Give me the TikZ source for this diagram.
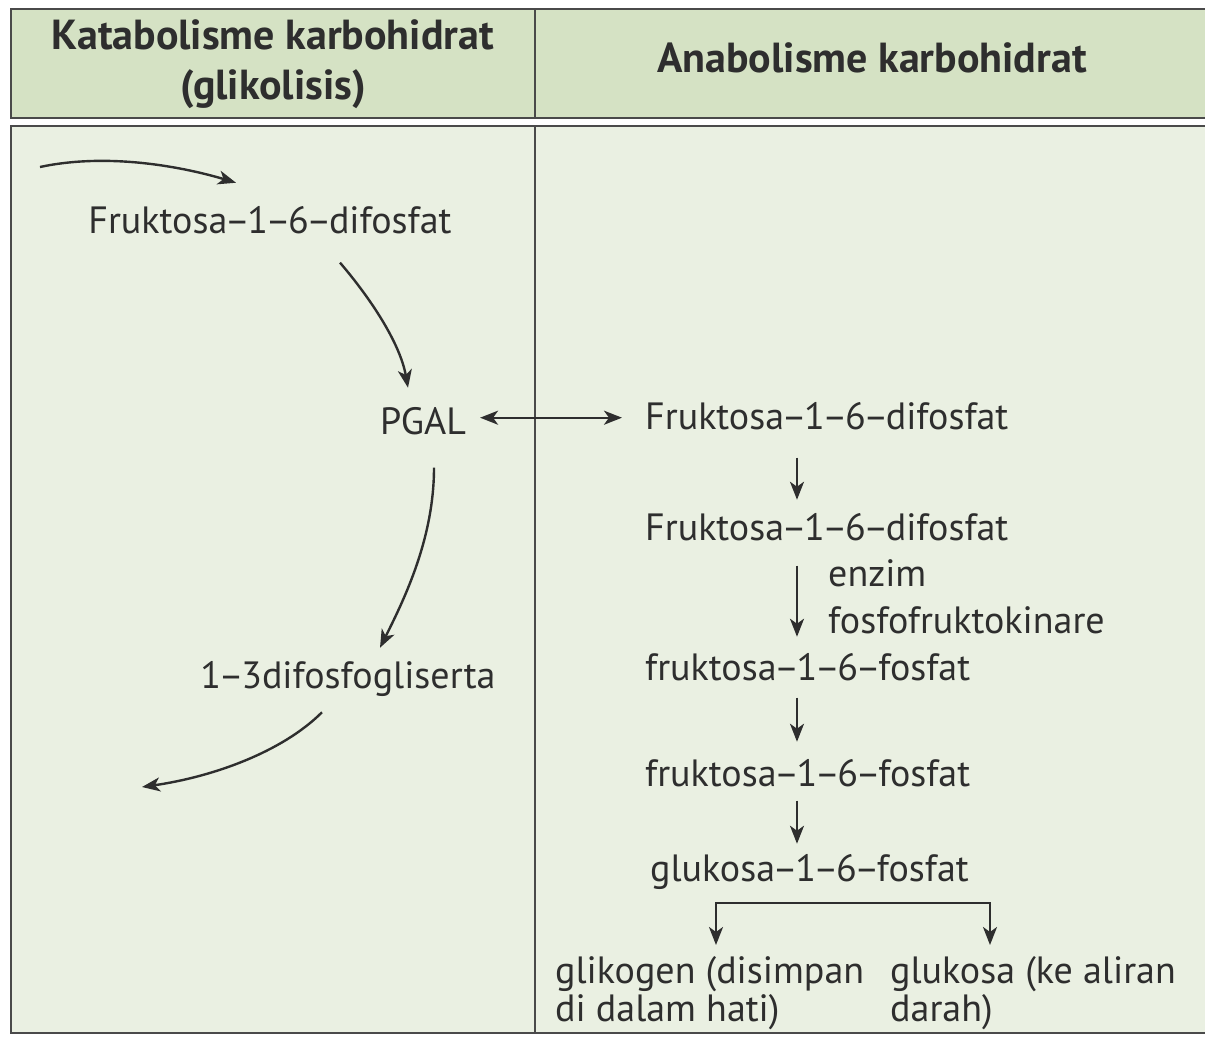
\documentclass[tikz,border=0pt]{standalone}
\usepackage{fontspec}
\setmainfont{PT Sans}
\newfontfamily\headfont{PT Sans}
\usetikzlibrary{arrows.meta,positioning,calc}
\definecolor{hgreen}{HTML}{D5E2C4}
\definecolor{bgreen}{HTML}{EAF0E2}
\definecolor{vgray}{HTML}{2E2E2E}
\definecolor{vline}{HTML}{4A4A4A}
\newcommand\dsh{\kern-2.5pt–\kern-2.5pt}
\tikzset{
  frame/.style={draw=vline,line width=2.2pt},
  head/.style={font=\headfont\bfseries\fontsize{42}{50}\selectfont,text=vgray,align=center,inner sep=0pt},
  txt/.style={font=\fontsize{38}{38}\selectfont,text=vgray,inner sep=0pt},
  arr/.style={-{Stealth[length=18pt,width=14pt,inset=5pt]},line width=2.4pt,draw=vgray},
  darr/.style={{Stealth[length=18pt,width=14pt,inset=5pt]}-{Stealth[length=18pt,width=14pt,inset=5pt]},line width=2.4pt,draw=vgray},
}
\begin{document}
\begin{tikzpicture}[x=1pt,y=-1pt]
  \useasboundingbox (0,0) rectangle (1205,1039);
  \fill[white] (0,0) rectangle (1205,1039);
  % header and body panels
  \filldraw[frame,fill=hgreen] (11,9) rectangle (1230,118);
  \draw[frame] (535,9) -- (535,118);
  \filldraw[frame,fill=bgreen] (11,126) rectangle (1230,1033);
  \draw[frame] (535,126) -- (535,1033);
  \node[head] (hkat) at (273,64) {Katabolisme karbohidrat\\(glikolisis)};
  \node[head] (hana) at (872,58) {Anabolisme karbohidrat};
  % glikolisis
  \coordinate (in0) at (40,167);
  \coordinate (out0) at (142,787);
  \node[txt,anchor=base] (fru0) at (270,233) {Fruktosa\dsh1\dsh6\dsh difosfat};
  \node[txt,anchor=base] (pgal) at (423,434) {PGAL};
  \node[txt,anchor=base] (dfg) at (348,688) {1\dsh3difosfogliserta};
  \draw[arr] (in0) .. controls +(70,-15) and +(-50,-15) .. ($(fru0.north)+(-34,-23)$);
  \draw[arr] ($(fru0.south)+(70,29)$) .. controls +(30,35) and +(-8,-45) .. ($(pgal.north)+(-15,-19)$);
  \draw[arr] ($(pgal.south)+(11,33)$) .. controls +(0,70) and +(25,-50) .. ($(dfg.north)+(32,-13)$);
  \draw[arr] ($(dfg.south)+(-26,16)$) .. controls +(-40,40) and +(70,-10) .. (out0);
  % anabolisme
  \coordinate (col) at (797,0);
  \node[txt,anchor=base west] (fru1) at (645,429) {Fruktosa\dsh1\dsh6\dsh difosfat};
  \node[txt,anchor=base west] (fru2) at (645,540) {Fruktosa\dsh1\dsh6\dsh difosfat};
  \node[txt,anchor=base west] (enz) at (828,586) {enzim};
  \node[txt,anchor=base west] (ffk) at (828,633) {fosfofruktokinare};
  \node[txt,anchor=base west] (fk1) at (645,680) {fruktosa\dsh1\dsh6\dsh fosfat};
  \node[txt,anchor=base west] (fk2) at (645,786) {fruktosa\dsh1\dsh6\dsh fosfat};
  \node[txt,anchor=base west] (glu) at (650,881) {glukosa\dsh1\dsh6\dsh fosfat};
  \node[txt,anchor=north west,align=left] (glik) at (555,956) {glikogen (disimpan\\di dalam hati)};
  \node[txt,anchor=north west,align=left] (gluk) at (890,956) {glukosa (ke aliran\\darah)};
  \draw[darr] ($(pgal.east)+(14,-3)$) -- ($(pgal.east -| fru1.west)+(-23,-3)$);
  \foreach \a/\b/\s/\e in {fru1/fru2/28/13, fru2/fk1/25/16, fk1/fk2/17/17, fk2/glu/14/10}
    \draw[arr] ($(\a.south -| col)+(0,\s)$) -- ($(\b.north -| col)+(0,-\e)$);
  \coordinate (brL) at (716,903);
  \coordinate (brR) at (990,903);
  \draw[darr] ($(brL |- glik.north)+(0,-11)$) -- (brL) -- (brR) -- ($(brR |- gluk.north)+(0,-11)$);
\end{tikzpicture}
\end{document}
